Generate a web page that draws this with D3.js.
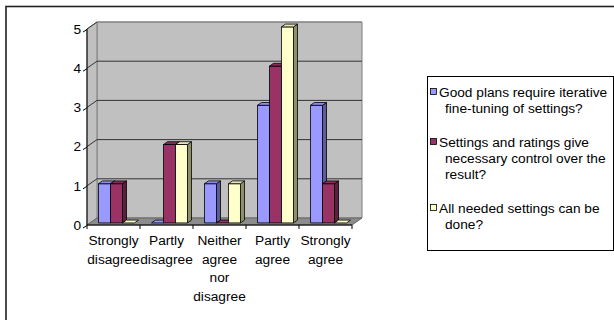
<!DOCTYPE html>
<html>
<head>
<meta charset="utf-8">
<script src="https://cdn.jsdelivr.net/npm/d3@7"></script>
<style>
  body { margin: 0; background: #fff; }
  text { font-family: "Liberation Sans", Arial, sans-serif; fill: #000; }
</style>
</head>
<body>
<div id="chart"></div>
<script>
// answers per category, one array per question
const categories = ["Strongly disagree", "Partly disagree", "Neither agree nor disagree", "Partly agree", "Strongly agree"];
const seriesNames = [
    "Good plans require iterative fine-tuning of settings?",
    "Settings and ratings give necessary control over the result?",
    "All needed settings can be done?"
];
const goodPlans = [1, 0, 1, 3, 3];
const settingsControl = [1, 2, 0, 4, 1];
const allSettings = [0, 2, 1, 5, 0];
const yTicks = [0, 1, 2, 3, 4, 5];

const series = [goodPlans, settingsControl, allSettings];
// front / side / top shades for the 3d boxes
const colors = [
    { front: "#9999ff", side: "#5c5c99", top: "#8c8ce6" },
    { front: "#993366", side: "#5c1f3d", top: "#862d59" },
    { front: "#ffffcc", side: "#8f8f6b", top: "#e6e6b8" }
];

const width = 614, height = 320;
const fontSize = 13.7;
// depth of the floor (front -> back wall)
const depthX = 10, depthY = -7;
const barFront = 0.3, barBack = 0.7;

const svg = d3.select("#chart").append("svg")
    .attr("width", width)
    .attr("height", height);

// outer chart frame, runs off the right / bottom edge
svg.append("rect")
    .attr("x", 6).attr("y", 6.5)
    .attr("width", 700).attr("height", 400)
    .style("fill", "#fff")
    .style("stroke", "#222")
    .style("stroke-width", 1.6);

const x = d3.scaleBand().domain(categories).range([87, 352]);
const xs = d3.scaleBand().domain(d3.range(series.length))
    .range([0, x.bandwidth()])
    .paddingInner(0).paddingOuter(0.71);
const y = d3.scaleLinear().domain([0, 5]).range([225, 29]);

const pts = p => p.map(d => d.join(",")).join(" ");
const x0 = x.range()[0], x1 = x.range()[1];

// walls and floor
const walls = svg.append("g");
walls.append("polygon")
    .attr("points", pts([[x0 + depthX, y(5) + depthY], [x1 + depthX, y(5) + depthY],
        [x1 + depthX, y(0) + depthY], [x0 + depthX, y(0) + depthY]]))
    .style("fill", "#c0c0c0").style("stroke", "#808080");
walls.append("polygon")
    .attr("points", pts([[x0, y(5)], [x0 + depthX, y(5) + depthY],
        [x0 + depthX, y(0) + depthY], [x0, y(0)]]))
    .style("fill", "#c0c0c0").style("stroke", "#808080");

// gridlines on back and side wall
yTicks.filter(v => v > 0).forEach(function (v) {
    walls.append("line")
        .attr("x1", x0 + depthX).attr("x2", x1 + depthX)
        .attr("y1", y(v) + depthY).attr("y2", y(v) + depthY)
        .style("stroke", v == 5 ? "#808080" : "#333");
    walls.append("line")
        .attr("x1", x0).attr("x2", x0 + depthX)
        .attr("y1", y(v)).attr("y2", y(v) + depthY)
        .style("stroke", "#333");
});

walls.append("polygon")
    .attr("points", pts([[x0, y(0)], [x1, y(0)],
        [x1 + depthX, y(0) + depthY], [x0 + depthX, y(0) + depthY]]))
    .style("fill", "#8c8c8c").style("stroke", "#666");

// bars, drawn left to right so the next box hides the previous side face
const bars = svg.append("g");
categories.forEach(function (cat, ci) {
    series.forEach(function (vals, si) {
        const c = colors[si];
        const l = x(cat) + xs(si);
        const r = l + xs.bandwidth();
        const fx = depthX * barFront, fy = depthY * barFront;
        const bx = depthX * barBack, by = depthY * barBack;
        const top = y(vals[ci]), base = y(0);
        const g = bars.append("g")
            .style("stroke", "#000")
            .style("stroke-width", 0.8)
            .style("stroke-linejoin", "round");
        if (vals[ci] > 0) {
            g.append("polygon")
                .attr("points", pts([[r + fx, top + fy], [r + bx, top + by], [r + bx, base + by], [r + fx, base + fy]]))
                .style("fill", c.side);
            g.append("polygon")
                .attr("points", pts([[l + fx, top + fy], [r + fx, top + fy], [r + fx, base + fy], [l + fx, base + fy]]))
                .style("fill", c.front);
        }
        g.append("polygon")
            .attr("points", pts([[l + fx, top + fy], [l + bx, top + by], [r + bx, top + by], [r + fx, top + fy]]))
            .style("fill", vals[ci] > 0 ? c.top : c.front);
    });
});

// value axis
const yAxis = d3.axisLeft(y).tickValues(yTicks).tickFormat(d3.format("d"))
    .tickSize(4).tickPadding(2);
const ya = svg.append("g")
    .attr("transform", "translate(" + x0 + ",0)")
    .call(yAxis);
ya.select(".domain").remove();
ya.selectAll(".tick line")
    .attr("x2", -4).attr("y2", 2.5)
    .style("stroke", "#000");
ya.selectAll(".tick text")
    .style("font-size", fontSize + "px")
    .style("font-family", "'Liberation Sans', Arial, sans-serif");
svg.append("line")
    .attr("x1", x0).attr("x2", x0)
    .attr("y1", y(5)).attr("y2", y(0))
    .style("stroke", "#000");

// category axis
svg.append("line")
    .attr("x1", x0).attr("x2", x1)
    .attr("y1", y(0)).attr("y2", y(0))
    .style("stroke", "#000");
categories.concat([null]).forEach(function (cat) {
    const bx = cat ? x(cat) : x1;
    svg.append("line")
        .attr("x1", bx).attr("x2", bx)
        .attr("y1", y(0)).attr("y2", y(0) + 4)
        .style("stroke", "#000");
});
categories.forEach(function (cat) {
    const t = svg.append("text")
        .attr("text-anchor", "middle")
        .style("font-size", fontSize + "px");
    cat.split(" ").forEach(function (word, i) {
        t.append("tspan")
            .attr("x", x(cat) + x.bandwidth() / 2)
            .attr("y", 245 + i * 18.6)
            .text(word);
    });
});

// legend
const legend = svg.append("g");
legend.append("rect")
    .attr("x", 427.5).attr("y", 76.5)
    .attr("width", 186).attr("height", 174)
    .style("fill", "#fff").style("stroke", "#000");

function wrap(label, maxWidth) {
    const probe = svg.append("text").style("font-size", fontSize + "px");
    const lines = [];
    let line = [];
    label.split(" ").forEach(function (w) {
        probe.text(line.concat([w]).join(" "));
        if (line.length && probe.node().getComputedTextLength() > maxWidth) {
            lines.push(line.join(" "));
            line = [w];
        } else {
            line.push(w);
        }
    });
    lines.push(line.join(" "));
    probe.remove();
    return lines;
}

let ly = 92;
seriesNames.forEach(function (name, si) {
    legend.append("rect")
        .attr("x", 430.5).attr("y", ly - 3.5)
        .attr("width", 6).attr("height", 6)
        .style("fill", colors[si].front)
        .style("stroke", "#000").style("stroke-width", 0.8);
    const lines = wrap(name, 172);
    lines.forEach(function (txt, i) {
        legend.append("text")
            .attr("x", i == 0 ? 439 : 445)
            .attr("y", ly + 5 + i * 16)
            .style("font-size", fontSize + "px")
            .text(txt);
    });
    ly += lines.length * 16 + 18;
});
</script>
</body>
</html>
